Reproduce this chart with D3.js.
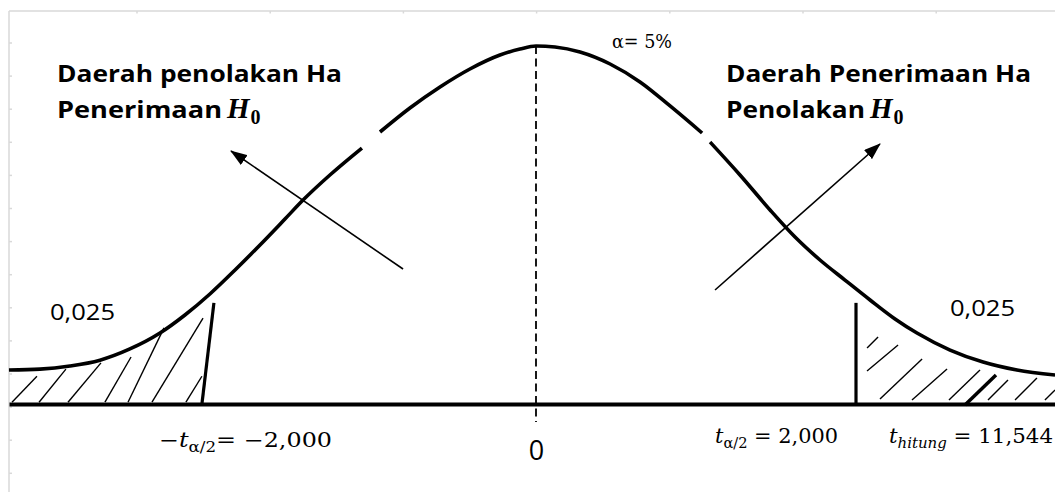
<!DOCTYPE html>
<html>
<head>
<meta charset="utf-8">
<title>Kurva uji t dua sisi</title>
<script src="https://cdn.jsdelivr.net/npm/d3@7/dist/d3.min.js"></script>
<style>
	body { margin: 0; background: #fff; }
	svg { display: block; }
	.sans { font-family: "Open Sans", "Noto Sans", sans-serif; }
	.math { font-family: "DejaVu Serif", "Liberation Serif", serif; }
	.hh { font-family: "Liberation Serif", "DejaVu Serif", serif; }
</style>
</head>
<body>
<script>
	var width = 1055, height = 492;

	// kurva distribusi t: [t, kepadatan]; tiga potong karena garisnya terputus
	var curveLeft = [[-3.294,0.038],[-3.1,0.039],[-2.913,0.0425],[-2.725,0.049],[-2.538,0.0615],[-2.35,0.0793],
		[-2.194,0.0994],[-2.038,0.1229],[-1.881,0.1497],[-1.725,0.1777],[-1.569,0.2067],[-1.456,0.2279],
		[-1.288,0.2559],[-1.088,0.286]];
	var curveMid = [[-0.975,0.3039],[-0.788,0.3307],[-0.6,0.3542],[-0.413,0.3743],[-0.225,0.3899],[-0.1,0.3966],
		[0,0.4],[0.119,0.3989],[0.275,0.3933],[0.463,0.3799],[0.65,0.3598],[0.838,0.333],[1.038,0.3028]];
	var curveRight = [[1.088,0.2927],[1.275,0.2559],[1.463,0.2168],[1.619,0.1866],[1.775,0.1609],[1.931,0.1385],
		[2.088,0.1162],[2.244,0.095],[2.381,0.0793],[2.588,0.0603],[2.794,0.0469],[3.006,0.038],[3.244,0.0324]];

	// garis batas kritis [t bawah, t atas, tinggi]
	var critLines = [[-2.088,-2.013,0.113],[2.0,2.0,0.113]];

	// arsiran daerah ekor [t1, d1, t2, d2]
	var hatchLeft = [[-3.275,0.002,-3.119,0.031],[-3.106,0.002,-2.938,0.039],[-2.925,0.002,-2.719,0.046],
		[-2.694,0.002,-2.531,0.0525],[-2.55,0.002,-2.325,0.085],[-2.4,0.002,-2.081,0.096],[-2.188,0.002,-2.088,0.031]];
	var hatchRight = [[2.069,0.0626,2.138,0.0749],[2.069,0.0369,2.263,0.0659],[2.15,0.0056,2.413,0.0503],
		[2.35,0.0045,2.569,0.0391],[2.581,0.0045,2.775,0.038],[2.825,0.0045,2.95,0.0268],
		[2.994,0.0045,3.131,0.029],[3.181,0.0045,3.244,0.0156]];
	var hatchBold = [[2.681,-0.001,2.875,0.0324]];

	// panah [t ekor, d ekor, t ujung, d ujung]
	var arrows = [[-0.831,0.1508,-1.906,0.2827],[1.119,0.1274,2.15,0.2905]];

	var regionTitles = ["Daerah penolakan Ha", "Daerah Penerimaan Ha"];
	var regionH0 = ["Penerimaan", "Penolakan"];
	var tailLabel = "0,025";
	var alphaLabel = "α= 5%";
	var critValues = ["−2,000", "2,000"];
	var tHitung = "11,544";

	var svg = d3.select("body").append("svg").attr("width", width).attr("height", height);

	var x = d3.scaleLinear().domain([-3.29375, 3.24375]).range([9, 1055]);
	var y = d3.scaleLinear().domain([0, 0.4]).range([404, 46]);

	// bingkai abu-abu halaman
	var frame = svg.append("g").attr("stroke", "#d9d9d9").attr("stroke-width", 1.5);
	frame.append("line").attr("x1", 9).attr("x2", width).attr("y1", 11).attr("y2", 11);
	frame.append("line").attr("x1", 9).attr("x2", 9).attr("y1", 11).attr("y2", height);
	frame.selectAll(".tl").data(d3.range(43, height, 33.1)).enter().append("line")
		.attr("x1", 9).attr("x2", 12).attr("y1", function(d){return d}).attr("y2", function(d){return d});
	frame.selectAll(".tt").data(d3.range(137, width, 133.2)).enter().append("line")
		.attr("x1", function(d){return d}).attr("x2", function(d){return d}).attr("y1", 11).attr("y2", 13.5);

	// arsiran
	function seg(g, data, w) {
		g.selectAll(null).data(data).enter().append("line")
			.attr("x1", function(d){return x(d[0])}).attr("y1", function(d){return y(d[1])})
			.attr("x2", function(d){return x(d[2])}).attr("y2", function(d){return y(d[3])})
			.attr("stroke", "#000").attr("stroke-width", w);
	}
	var hg = svg.append("g");
	seg(hg, hatchLeft, 1.4);
	seg(hg, hatchRight, 1.4);
	seg(hg, hatchBold, 3.5);

	// kurva
	var line = d3.line().x(function(d){return x(d[0])}).y(function(d){return y(d[1])}).curve(d3.curveMonotoneX);
	svg.selectAll(".curve").data([curveLeft, curveMid, curveRight]).enter().append("path")
		.attr("d", line).attr("fill", "none").attr("stroke", "#000").attr("stroke-width", 3.6);

	// garis kritis
	svg.selectAll(".crit").data(critLines).enter().append("line")
		.attr("x1", function(d){return x(d[0])}).attr("y1", y(0))
		.attr("x2", function(d){return x(d[1])}).attr("y2", function(d){return y(d[2])})
		.attr("stroke", "#000").attr("stroke-width", 3.2);

	// sumbu datar
	var axis = svg.append("g").attr("transform", "translate(0," + y(0) + ")")
		.call(d3.axisBottom(x).tickValues([0]).tickSize(0).tickPadding(37).tickFormat(function(){return "0"}));
	axis.select(".domain").attr("stroke", "#000").attr("stroke-width", 3.8);
	axis.selectAll("text").attr("class", "sans").attr("font-family", null).attr("font-size", 27).attr("fill", "#000");

	// garis putus-putus tengah
	svg.append("line").attr("x1", x(0)).attr("x2", x(0)).attr("y1", y(0.4)).attr("y2", y(-0.02))
		.attr("stroke", "#000").attr("stroke-width", 1.8).attr("stroke-dasharray", "8,4.5");

	// panah
	svg.append("defs").append("marker").attr("id", "head")
		.attr("viewBox", "0 -6 17 12").attr("refX", 16).attr("refY", 0)
		.attr("markerUnits", "userSpaceOnUse").attr("markerWidth", 17).attr("markerHeight", 12)
		.attr("orient", "auto").append("path").attr("d", "M0,-6L17,0L0,6Z").attr("fill", "#000");
	svg.selectAll(".arrow").data(arrows).enter().append("line")
		.attr("x1", function(d){return x(d[0])}).attr("y1", function(d){return y(d[1])})
		.attr("x2", function(d){return x(d[2])}).attr("y2", function(d){return y(d[3])})
		.attr("stroke", "#000").attr("stroke-width", 1.6).attr("marker-end", "url(#head)");

	// judul daerah
	var titleX = [57, 726], titleLen = [285, 305], wordLen = [165, 139], hX = [227, 870];
	regionTitles.forEach(function(t, i) {
		svg.append("text").attr("class", "sans").attr("x", titleX[i]).attr("y", 82)
			.attr("font-size", 23.5).attr("font-weight", 700)
			.attr("textLength", titleLen[i]).attr("lengthAdjust", "spacingAndGlyphs").text(t);
		svg.append("text").attr("class", "sans").attr("x", titleX[i]).attr("y", 118)
			.attr("font-size", 23.5).attr("font-weight", 700)
			.attr("textLength", wordLen[i]).attr("lengthAdjust", "spacingAndGlyphs").text(regionH0[i]);
		var h = svg.append("text").attr("class", "hh").attr("x", hX[i]).attr("y", 118)
			.attr("font-weight", 700);
		h.append("tspan").attr("font-size", 29).attr("font-style", "italic").text("H");
		h.append("tspan").attr("font-size", 20).attr("dx", 1).attr("dy", 6).text("0");
	});

	// label ekor dan alfa
	svg.append("text").attr("class", "sans").attr("x", 50).attr("y", 320).attr("font-size", 22)
		.attr("textLength", 65).attr("lengthAdjust", "spacingAndGlyphs").text(tailLabel);
	svg.append("text").attr("class", "sans").attr("x", 950).attr("y", 316).attr("font-size", 22)
		.attr("textLength", 65).attr("lengthAdjust", "spacingAndGlyphs").text(tailLabel);
	svg.append("text").attr("class", "math").attr("x", 612).attr("y", 48).attr("font-size", 19)
		.attr("textLength", 60).attr("lengthAdjust", "spacingAndGlyphs").text(alphaLabel);

	// label nilai t
	function mathLabel(x0, y0, len, parts) {
		var t = svg.append("text").attr("class", "math").attr("x", x0).attr("y", y0).attr("font-size", 20)
			.attr("textLength", len).attr("lengthAdjust", "spacingAndGlyphs");
		parts.forEach(function(p) {
			var s = t.append("tspan").text(p[0]);
			if (p[1] == "it") s.attr("font-style", "italic");
			if (p[1] == "sub" || p[1] == "subit") s.attr("font-size", 14).attr("dy", 5);
			if (p[1] == "subit") s.attr("font-style", "italic");
			if (p[2]) s.attr("dy", -5);
		});
	}
	mathLabel(159, 447, 173, [["−"], ["t", "it"], ["α/2", "sub"], ["= " + critValues[0], null, true]]);
	mathLabel(715, 443, 123, [["t", "it"], ["α/2", "sub"], [" = " + critValues[1], null, true]]);
	mathLabel(889, 443, 164, [["t", "it"], ["hitung", "subit"], [" = " + tHitung, null, true]]);
</script>
</body>
</html>
